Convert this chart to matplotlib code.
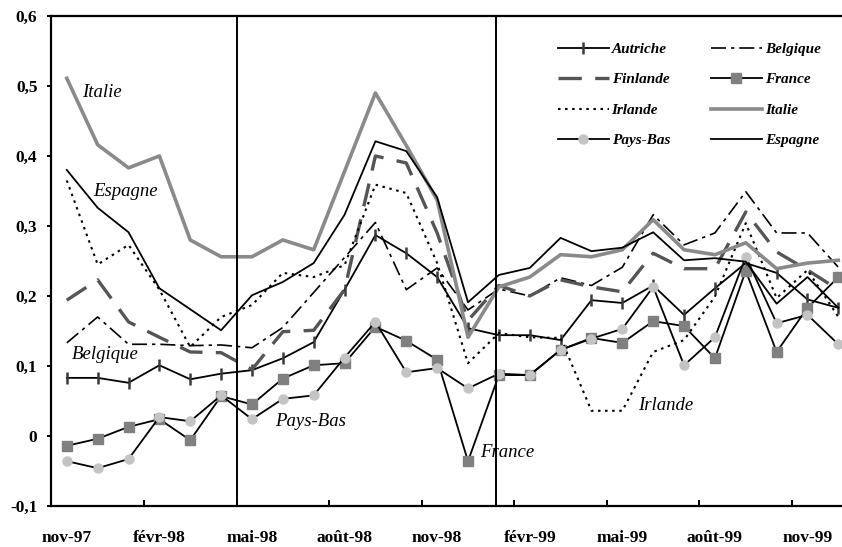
import matplotlib
matplotlib.use("Agg")
import matplotlib.pyplot as plt
from matplotlib.lines import Line2D

months = ['nov-97', 'déc-97', 'janv-98', 'févr-98', 'mars-98', 'avr-98', 'mai-98',
          'juin-98', 'juil-98', 'août-98', 'sept-98', 'oct-98', 'nov-98', 'déc-98',
          'janv-99', 'févr-99', 'mars-99', 'avr-99', 'mai-99', 'juin-99', 'juil-99',
          'août-99', 'sept-99', 'oct-99', 'nov-99', 'déc-99']

autriche = [0.083, 0.083, 0.076, 0.101, 0.081, 0.089, 0.094, 0.111, 0.134, 0.209, 0.287,
            0.261, 0.227, 0.154, 0.144, 0.144, 0.137, 0.194, 0.190, 0.215, 0.173, 0.211,
            0.247, 0.233, 0.195, 0.183]
belgique = [0.133, 0.170, 0.131, 0.131, 0.129, 0.130, 0.126, 0.155, 0.205, 0.255, 0.305,
            0.209, 0.240, 0.180, 0.210, 0.200, 0.226, 0.215, 0.241, 0.316, 0.273, 0.290,
            0.349, 0.290, 0.290, 0.241]
finlande = [0.194, 0.223, 0.163, 0.141, 0.120, 0.119, 0.095, 0.149, 0.151, 0.209, 0.400,
            0.390, 0.290, 0.165, 0.215, 0.200, 0.223, 0.213, 0.206, 0.261, 0.239, 0.239,
            0.320, 0.263, 0.237, 0.209]
france = [-0.014, -0.004, 0.013, 0.024, -0.006, 0.057, 0.045, 0.082, 0.101, 0.104, 0.156,
          0.136, 0.109, -0.036, 0.087, 0.087, 0.123, 0.140, 0.133, 0.164, 0.157, 0.111,
          0.236, 0.120, 0.183, 0.227]
irlande = [0.365, 0.245, 0.273, 0.209, 0.127, 0.170, 0.187, 0.233, 0.227, 0.244, 0.359,
           0.347, 0.247, 0.104, 0.147, 0.141, 0.140, 0.036, 0.036, 0.120, 0.137, 0.199,
           0.304, 0.197, 0.237, 0.170]
italie = [0.511, 0.416, 0.383, 0.400, 0.280, 0.256, 0.256, 0.280, 0.266, 0.378, 0.490,
          0.415, 0.337, 0.141, 0.213, 0.227, 0.259, 0.256, 0.266, 0.309, 0.266, 0.259,
          0.276, 0.239, 0.247, 0.251]
pays_bas = [-0.036, -0.046, -0.033, 0.027, 0.021, 0.058, 0.024, 0.053, 0.058, 0.112, 0.163,
            0.091, 0.097, 0.068, 0.089, 0.087, 0.123, 0.139, 0.153, 0.213, 0.101, 0.141,
            0.256, 0.161, 0.173, 0.131]
espagne = [0.380, 0.326, 0.291, 0.211, 0.181, 0.151, 0.201, 0.220, 0.247, 0.316, 0.421,
           0.407, 0.341, 0.191, 0.230, 0.240, 0.283, 0.264, 0.269, 0.291, 0.251, 0.254,
           0.249, 0.189, 0.227, 0.183]

y_ticks = [-0.1, 0, 0.1, 0.2, 0.3, 0.4, 0.5, 0.6]
y_labels = ['-0,1', '0', '0,1', '0,2', '0,3', '0,4', '0,5', '0,6']

annotations = [('Italie', 0.49, 0.491), ('Espagne', 0.85, 0.349), ('Belgique', 0.17, 0.117),
               ('Pays-Bas', 6.75, 0.020), ('France', 13.4, -0.024), ('Irlande', 18.5, 0.044)]
vlines = [5.5, 13.9]

serif = ['Liberation Serif', 'DejaVu Serif']
plt.rcParams['font.family'] = serif

fig = plt.figure(figsize=(8.42, 5.47), dpi=100)
ax = fig.add_axes([0.0610, 0.075, 0.953, 0.8958])
x = list(range(len(months)))

l_aut, = ax.plot(x, autriche, color='black', lw=1.3, marker='|', ms=8, mew=1.8,
                 mec='#3a3a3a', label='Autriche')
l_bel, = ax.plot(x, belgique, color='black', lw=1.2, linestyle=(0, (9, 3, 2, 3)), label='Belgique')
l_fin, = ax.plot(x, finlande, color='#555555', lw=2.4, linestyle=(0, (7, 4)), label='Finlande')
l_fra, = ax.plot(x, france, color='black', lw=1.3, marker='s', ms=7, mfc='#808080',
                 mec='#808080', label='France')
l_irl, = ax.plot(x, irlande, color='black', lw=1.5, linestyle=(0, (1.2, 2.2)), label='Irlande')
l_ita, = ax.plot(x, italie, color='#8a8a8a', lw=2.6, label='Italie')
l_pb, = ax.plot(x, pays_bas, color='black', lw=1.3, marker='o', ms=6.5, mfc='#c4c4c4',
                mec='#c4c4c4', label='Pays-Bas')
l_esp, = ax.plot(x, espagne, color='black', lw=1.3, label='Espagne')

for v in vlines:
    ax.axvline(v, color='black', lw=1.4)

ax.set_xlim(-0.5, len(months) - 0.5)
ax.set_ylim(-0.1, 0.6)
ax.set_yticks(y_ticks)
ax.set_yticklabels(y_labels, fontsize=12.5, fontweight='bold')
ax.tick_params(axis='y', direction='out', length=3, width=1.4, pad=7)

ax.set_xticks(x[::3])
ax.set_xticklabels(months[::3], fontsize=12.5, fontweight='bold')
ax.tick_params(axis='x', which='major', length=0, pad=17)
ax.set_xticks([i + 2.5 for i in range(0, len(months) - 2, 3)], minor=True)
ax.tick_params(axis='x', which='minor', direction='in', length=4, width=1.4)

for s in ['left', 'bottom', 'top']:
    ax.spines[s].set_linewidth(1.6)
ax.spines['right'].set_visible(False)

for txt, xx, yy in annotations:
    ax.text(xx, yy, txt, fontsize=13.5, style='italic', va='center', ha='left')

handles = [l_aut, l_fin, l_irl, l_pb, l_bel, l_fra, l_ita, l_esp]
leg = ax.legend(handles=handles, ncol=2, frameon=False, loc='upper left',
                bbox_to_anchor=(0.622, 0.962), handlelength=3.3, handletextpad=0.2,
                labelspacing=1.1, columnspacing=2.7, borderpad=0,
                prop={'family': serif, 'style': 'italic', 'weight': 'bold', 'size': 11})

fig.savefig('out.png', dpi=100)
